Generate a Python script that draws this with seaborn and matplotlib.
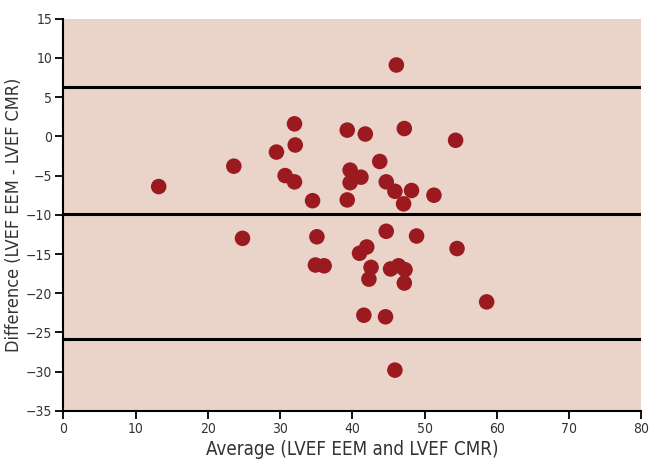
import pandas as pd
import matplotlib.pyplot as plt
import seaborn as sns

# Bland-Altman values
avg_lvef = [13.2, 23.6, 24.8, 29.5, 30.7, 32.0, 32.1, 32.0, 34.5, 34.9,
            35.1, 36.1, 39.3, 39.3, 39.7, 39.7, 41.2, 41.0, 41.6, 41.8,
            42.0, 42.3, 42.6, 43.8, 44.6, 44.7, 44.7, 45.3, 45.9, 45.9,
            46.1, 46.4, 47.1, 47.3, 47.2, 47.2, 48.2, 48.9, 51.3, 54.3,
            54.5, 58.6]
diff_lvef = [-6.4, -3.8, -13.0, -2.0, -5.0, 1.6, -1.1, -5.8, -8.2, -16.4,
             -12.8, -16.5, 0.8, -8.1, -4.3, -5.9, -5.2, -14.9, -22.8, 0.3,
             -14.1, -18.2, -16.7, -3.2, -23.0, -12.1, -5.8, -16.9, -7.0, -29.8,
             9.1, -16.5, -8.6, -17.0, -18.7, 1.0, -6.9, -12.7, -7.5, -0.5,
             -14.3, -21.1]
limit_lines = [6.3, -9.9, -25.8]  # upper LoA, mean bias, lower LoA

df = pd.DataFrame({'avg': avg_lvef, 'diff': diff_lvef})

sns.set_style('ticks')
plt.rcParams['font.family'] = ['DejaVu Sans']
plt.rcParams['font.stretch'] = 'condensed'

fig = plt.figure(figsize=(6.53, 4.68), dpi=100)
ax = fig.add_axes([0.097, 0.122, 0.885, 0.838])
ax.set_facecolor('#ead3c8')

for y in limit_lines:
    ax.axhline(y, color='black', lw=2.2, zorder=1)

sns.scatterplot(x='avg', y='diff', data=df, ax=ax, color='#9a1a1f',
                s=125, edgecolor='none', zorder=3)

ax.set_xlim(0, 80)
ax.set_ylim(-35, 15)
ax.set_xticks(range(0, 81, 10))
ax.set_yticks(range(-35, 16, 5))
ax.tick_params(axis='both', colors='black', labelcolor='#333333',
               labelsize=10, length=6, width=1.3, direction='out', pad=2)
for side in ['top', 'right']:
    ax.spines[side].set_visible(False)
for side in ['left', 'bottom']:
    ax.spines[side].set_linewidth(1.5)
    ax.spines[side].set_color('black')

ax.set_xlabel('Average (LVEF EEM and LVEF CMR)', fontsize=13.5, color='#333333', labelpad=3)
ax.set_ylabel('Difference (LVEF EEM - LVEF CMR)', fontsize=13, color='#333333', labelpad=2)

plt.savefig('out.png', dpi=100)
